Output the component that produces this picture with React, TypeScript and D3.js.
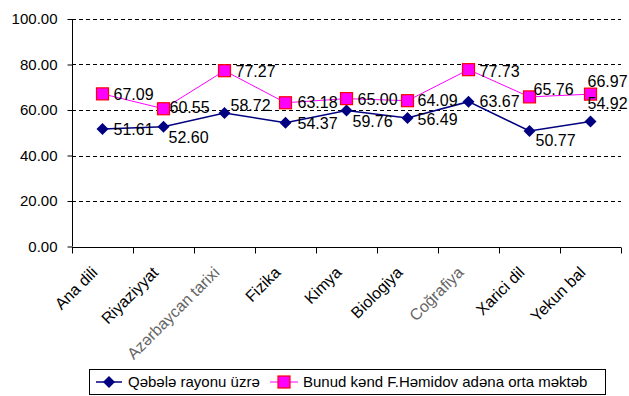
import React, { useRef, useEffect } from "react";
import * as d3 from "d3";

// Fənlər (categories)
const subjects = [
  "Ana dili",
  "Riyaziyyat",
  "Azərbaycan tarixi",
  "Fizika",
  "Kimya",
  "Biologiya",
  "Coğrafiya",
  "Xarici dil",
  "Yekun bal",
];

const seriesNames = ["Qəbələ rayonu üzrə", "Bunud kənd F.Həmidov adəna orta məktəb"];

const rayonValues = [51.61, 52.6, 58.72, 54.37, 59.76, 56.49, 63.67, 50.77, 54.92];
const schoolValues = [67.09, 60.55, 77.27, 63.18, 65.0, 64.09, 77.73, 65.76, 66.97];

const yTicks = [0, 20, 40, 60, 80, 100];

// label nudges (dx, dy) – the labels were moved by hand in the original
const rayonLabelShift: [number, number][] = [
  [11, 0], [5, 10], [6, -8], [12, 0], [6, 11], [10, 1], [11, 0], [6, 9], [-3, -18],
];
const schoolLabelShift: [number, number][] = [
  [11, 0], [6, -2], [11, 1], [12, -1], [11, 1], [10, 0], [11, 2], [4, -8], [-3, -13],
];

const App = () => {
  const svgRef = useRef<SVGSVGElement | null>(null);

  useEffect(() => {
    const svg = d3.select(svgRef.current);
    svg.selectAll("*").remove();

    const W = 629;
    const H = 396;
    const left = 72;
    const right = 621;
    const top = 19;
    const bottom = 246.5;
    const font = "'Liberation Sans', Arial, sans-serif";

    svg.attr("width", W).attr("height", H);
    svg.append("rect").attr("width", W).attr("height", H).attr("fill", "#fff");

    const x = d3.scaleBand().domain(subjects).range([left, right]);
    const y = d3.scaleLinear().domain([0, 100]).range([bottom, top]);

    // Grid lines
    svg.append("g")
      .selectAll("line")
      .data(yTicks.filter(t => t > 0))
      .enter()
      .append("line")
      .attr("x1", left)
      .attr("x2", right)
      .attr("y1", d => Math.round(y(d)) + 0.5)
      .attr("y2", d => Math.round(y(d)) + 0.5)
      .attr("stroke", "#000")
      .attr("stroke-dasharray", "4,3")
      .attr("shape-rendering", "crispEdges");

    // Y axis
    const yAxis = svg.append("g")
      .attr("transform", `translate(${left + 0.5},0)`)
      .call(
        d3.axisLeft(y)
          .tickValues(yTicks)
          .tickSize(5)
          .tickPadding(10)
          .tickFormat(d => d3.format(".2f")(d as number))
      );
    yAxis.select(".domain").attr("stroke", "#000").attr("d", `M0,${top}V${bottom}`);
    yAxis.selectAll("line").attr("stroke", "#000");
    yAxis.selectAll("text")
      .attr("font-family", font)
      .attr("font-size", 15)
      .attr("fill", "#000");

    // X axis
    const xAxis = svg.append("g")
      .attr("transform", `translate(0,${Math.round(bottom) + 0.5})`);
    xAxis.append("line")
      .attr("x1", left)
      .attr("x2", right)
      .attr("stroke", "#000");
    xAxis.selectAll(".tick")
      .data(d3.range(subjects.length + 1))
      .enter()
      .append("line")
      .attr("x1", i => Math.round(left + i * x.bandwidth()) + 0.5)
      .attr("x2", i => Math.round(left + i * x.bandwidth()) + 0.5)
      .attr("y1", 0)
      .attr("y2", 6)
      .attr("stroke", "#000");

    xAxis.selectAll(".lbl")
      .data(subjects)
      .enter()
      .append("text")
      .attr("transform", d => `translate(${(x(d) as number) + x.bandwidth() / 2 - 4},${26}) rotate(-45)`)
      .attr("text-anchor", "end")
      .attr("font-family", font)
      .attr("font-size", 16)
      .attr("fill", d => (d === "Azərbaycan tarixi" || d === "Coğrafiya" ? "#666" : "#000"))
      .text(d => d);

    const cx = (i: number) => (x(subjects[i]) as number) + x.bandwidth() / 2;
    const line = d3.line<number>().x((_, i) => cx(i)).y(d => y(d));

    // Rayon series
    svg.append("path")
      .datum(rayonValues)
      .attr("d", line)
      .attr("fill", "none")
      .attr("stroke", "#000080")
      .attr("stroke-width", 1.5);

    // School series
    svg.append("path")
      .datum(schoolValues)
      .attr("d", line)
      .attr("fill", "none")
      .attr("stroke", "#ff00ff")
      .attr("stroke-width", 1);

    const diamond = (g: any, px: number, py: number) =>
      g.append("path")
        .attr("d", `M${px},${py - 6}L${px + 6},${py}L${px},${py + 6}L${px - 6},${py}Z`)
        .attr("fill", "#000080");
    const square = (g: any, px: number, py: number) =>
      g.append("rect")
        .attr("x", px - 6)
        .attr("y", py - 6)
        .attr("width", 12)
        .attr("height", 12)
        .attr("fill", "#ff00ff")
        .attr("stroke", "#ff0000")
        .attr("stroke-width", 1.2);

    const marks = svg.append("g");
    rayonValues.forEach((v, i) => diamond(marks, cx(i), y(v)));
    schoolValues.forEach((v, i) => square(marks, cx(i), y(v)));

    // Data labels
    const labels = svg.append("g")
      .attr("font-family", font)
      .attr("font-size", 16)
      .attr("fill", "#000");
    rayonValues.forEach((v, i) => {
      labels.append("text")
        .attr("x", cx(i) + rayonLabelShift[i][0])
        .attr("y", y(v) + rayonLabelShift[i][1])
        .attr("dy", "0.36em")
        .text(d3.format(".2f")(v));
    });
    schoolValues.forEach((v, i) => {
      labels.append("text")
        .attr("x", cx(i) + schoolLabelShift[i][0])
        .attr("y", y(v) + schoolLabelShift[i][1])
        .attr("dy", "0.36em")
        .text(d3.format(".2f")(v));
    });

    // Legend
    const legend = svg.append("g");
    legend.append("rect")
      .attr("x", 89.5)
      .attr("y", 369.5)
      .attr("width", 516)
      .attr("height", 25)
      .attr("fill", "#fff")
      .attr("stroke", "#000");
    const ly = 382;
    legend.append("line")
      .attr("x1", 96).attr("x2", 122).attr("y1", ly).attr("y2", ly)
      .attr("stroke", "#000080").attr("stroke-width", 1.5);
    diamond(legend, 109, ly);
    legend.append("text")
      .attr("x", 128).attr("y", ly).attr("dy", "0.36em")
      .attr("font-family", font).attr("font-size", 15)
      .text(seriesNames[0]);
    legend.append("line")
      .attr("x1", 270).attr("x2", 298).attr("y1", ly).attr("y2", ly)
      .attr("stroke", "#ff00ff").attr("stroke-width", 1);
    square(legend, 284, ly);
    legend.append("text")
      .attr("x", 303).attr("y", ly).attr("dy", "0.36em")
      .attr("font-family", font).attr("font-size", 15)
      .text(seriesNames[1]);
  }, []);

  return (
    <div style={{ position: "absolute", left: 0, top: 0 }}>
      <svg ref={svgRef} style={{ display: "block" }}></svg>
    </div>
  );
};

export default App;
